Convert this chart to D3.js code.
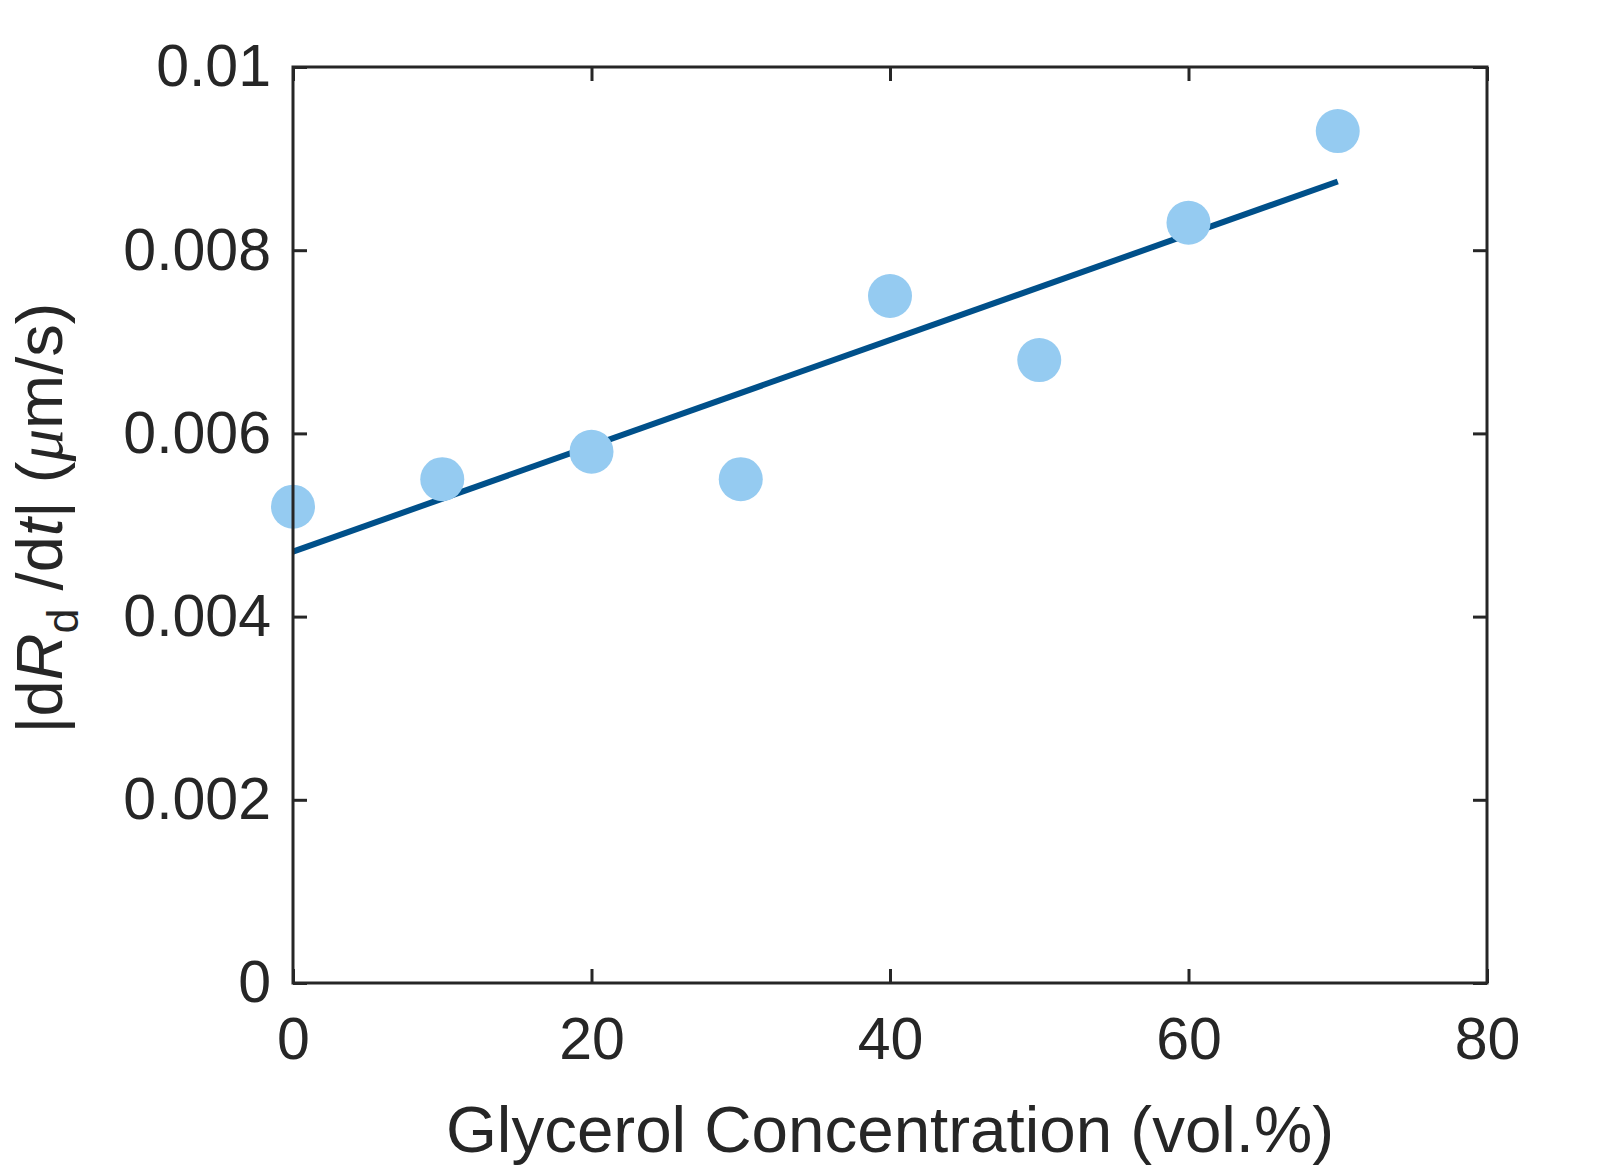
<!DOCTYPE html>
<html>
<head>
<meta charset="utf-8">
<script src="https://cdn.jsdelivr.net/npm/d3@7"></script>
<style>
  html, body { margin: 0; padding: 0; background: #fff; }
  svg { display: block; font-family: "Liberation Sans", Arial, Helvetica, sans-serif; }
</style>
</head>
<body>
<svg id="chart" width="1612" height="1171"></svg>
<script>
// glycerol concentration (vol.%) and measured |dRd/dt| (um/s)
const glycerol = [0, 10, 20, 30, 40, 50, 60, 70];
const rate = [0.0052, 0.0055, 0.0058, 0.0055, 0.0075, 0.0068, 0.0083, 0.0093];

// linear fit, endpoints
const fitX = [0, 70];
const fitY = [0.00471, 0.00875];

const xTicks = [0, 20, 40, 60, 80];
const yTicks = [0, 0.002, 0.004, 0.006, 0.008, 0.01];
const yTickLabels = ["0", "0.002", "0.004", "0.006", "0.008", "0.01"];

const AXIS = "#262626";
const margin = { left: 293, right: 125, top: 67, bottom: 188 };
const W = 1612, H = 1171;

const svg = d3.select("#chart");
const x = d3.scaleLinear().domain([0, 80]).range([margin.left, W - margin.right]);
const y = d3.scaleLinear().domain([0, 0.01]).range([H - margin.bottom, margin.top]);

/* --- fit line + points --- */
const line = d3.line().x((d) => x(d[0])).y((d) => y(d[1]));
svg.append("path")
  .datum(d3.zip(fitX, fitY))
  .attr("d", line)
  .attr("fill", "none")
  .attr("stroke", "#00508a")
  .attr("stroke-width", 6);

svg.append("g")
  .selectAll("circle")
  .data(d3.zip(glycerol, rate))
  .join("circle")
  .attr("cx", (d) => x(d[0]))
  .attr("cy", (d) => y(d[1]))
  .attr("r", 22)
  .attr("fill", "#95cbf1");

/* --- axes (box with inward ticks) --- */
const tick = 14;
function styleAxis(g) {
  g.selectAll(".domain").remove();
  g.selectAll(".tick line").attr("stroke", AXIS).attr("stroke-width", 3);
  g.selectAll(".tick text")
    .attr("fill", AXIS)
    .attr("font-size", 59)
    .attr("font-family", "Liberation Sans, Arial, sans-serif");
}

svg.append("g")
  .attr("transform", `translate(0,${y(0)})`)
  .call(d3.axisBottom(x).tickValues(xTicks).tickSizeInner(-tick).tickSizeOuter(0).tickPadding(34))
  .call(styleAxis);

svg.append("g")
  .attr("transform", `translate(0,${y(0.01)})`)
  .call(d3.axisTop(x).tickValues(xTicks).tickSizeInner(-tick).tickSizeOuter(0).tickFormat(""))
  .call(styleAxis);

svg.append("g")
  .attr("transform", `translate(${x(0)},0)`)
  .call(d3.axisLeft(y).tickValues(yTicks).tickSizeInner(-tick).tickSizeOuter(0)
    .tickPadding(22).tickFormat((d, i) => yTickLabels[i]))
  .call(styleAxis);

svg.append("g")
  .attr("transform", `translate(${x(80)},0)`)
  .call(d3.axisRight(y).tickValues(yTicks).tickSizeInner(-tick).tickSizeOuter(0).tickFormat(""))
  .call(styleAxis);

svg.append("rect")
  .attr("x", x(0)).attr("y", y(0.01))
  .attr("width", x(80) - x(0)).attr("height", y(0) - y(0.01))
  .attr("fill", "none")
  .attr("stroke", AXIS)
  .attr("stroke-width", 3);

/* --- axis labels --- */
svg.append("text")
  .attr("x", (x(0) + x(80)) / 2)
  .attr("y", 1152)
  .attr("text-anchor", "middle")
  .attr("font-size", 65.5)
  .attr("fill", AXIS)
  .text("Glycerol Concentration (vol.%)");

const yl = svg.append("text")
  .attr("transform", `translate(62,${(y(0) + y(0.01)) / 2 - 7}) rotate(-90)`)
  .attr("text-anchor", "middle")
  .attr("font-size", 65)
  .attr("fill", AXIS);
yl.append("tspan").text("|d");
yl.append("tspan").attr("font-style", "italic").text("R");
yl.append("tspan").attr("font-size", 45).attr("dy", 16).text("d");
yl.append("tspan").attr("dy", -16).text(" /d");
yl.append("tspan").attr("font-style", "italic").text("t");
yl.append("tspan").text("| (");
yl.append("tspan").attr("font-style", "italic").attr("font-family", "Liberation Serif, serif").text("\u03bc");
yl.append("tspan").text("m/s)");
</script>
</body>
</html>
